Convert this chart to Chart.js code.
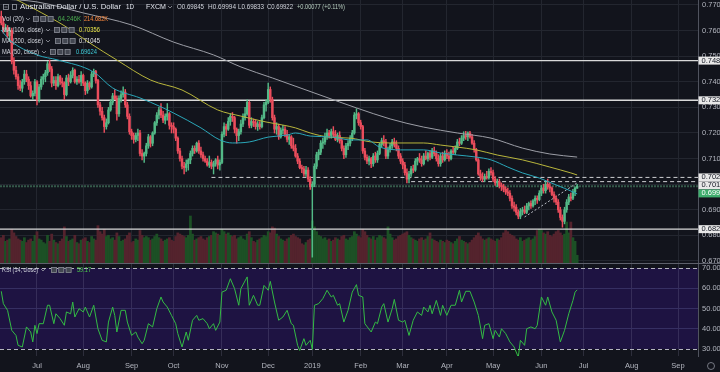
<!DOCTYPE html>
<html>
<head>
<meta charset="utf-8">
<script src="https://cdn.jsdelivr.net/npm/chart.js@4.4.0/dist/chart.umd.min.js"></script>
<style>
  html, body { margin: 0; padding: 0; background: #12141c; overflow: hidden; }
  #wrap { position: relative; width: 720px; height: 372px; }
  canvas { position: absolute; left: 0; }
  #price { top: 0; }
  #rsi { top: 264px; }
</style>
</head>
<body>
<div id="wrap">
  <canvas id="price" width="720" height="264"></canvas>
  <canvas id="rsi" width="720" height="108"></canvas>
</div>
<script>
// ---- data (prices in 1/10000, one entry per daily bar, Jun 7 2018 .. Jun 2019) ----
const monthTicks = [17, 39, 62, 82, 105, 127, 148, 171, 191, 212, 234, 257, 277, 300, 322];
const monthLabels = ['Jul', 'Aug', 'Sep', 'Oct', 'Nov', 'Dec', '2019', 'Feb', 'Mar', 'Apr', 'May', 'Jun', 'Jul', 'Aug', 'Sep'];

const opens = [
  7655,7630,7605,7610,7580,7600,7480,7445,7420,7385, 7375,7400,7430,7410,7385,7345,7355,7400,7330,7380,
  7410,7420,7435,7470,7450,7395,7405,7385,7420,7400, 7395,7350,7415,7400,7425,7445,7400,7410,7400,7425,
  7395,7365,7395,7380,7430,7440,7405,7310,7285,7260, 7225,7240,7290,7320,7345,7335,7275,7335,7350,7360,
  7310,7265,7205,7190,7175,7190,7200,7120,7110,7120, 7150,7185,7160,7200,7240,7270,7290,7270,7250,7265,
  7275,7230,7225,7215,7180,7130,7100,7070,7065,7080, 7095,7120,7140,7130,7160,7130,7115,7100,7090,7075,
  7085,7070,7080,7095,7075,7085,7195,7225,7215,7245, 7265,7260,7215,7190,7205,7235,7260,7275,7320,7230,
  7245,7240,7225,7235,7225,7260,7310,7320,7370,7330, 7260,7215,7225,7185,7210,7215,7195,7175,7185,7150,
  7140,7110,7090,7065,7060,7040,7055,7020,6990,7000, 7070,7115,7125,7160,7165,7185,7200,7190,7205,7195,
  7175,7190,7170,7140,7115,7150,7160,7180,7200,7270, 7275,7240,7225,7130,7105,7090,7100,7080,7110,7095,
  7120,7155,7170,7165,7110,7135,7150,7165,7155,7140, 7110,7090,7075,7045,7020,7040,7060,7055,7090,7100,
  7095,7080,7110,7100,7120,7105,7130,7120,7100,7080, 7110,7095,7120,7110,7100,7130,7125,7140,7165,7160,
  7180,7190,7185,7200,7185,7160,7135,7095,7040,7030, 7020,7030,7025,7050,7045,7020,7005,7010,6995,6990,
  6980,6970,6965,6945,6915,6910,6890,6875,6895,6900, 6890,6915,6925,6915,6935,6945,6940,6965,6985,6975,
  7000,6990,6985,6960,6945,6930,6900,6870,6855,6900, 6930,6950,6945,6970,6984.5
];
const highs = [
  7676,7650,7625,7620,7612,7610,7495,7460,7430,7405, 7410,7445,7445,7420,7400,7365,7410,7405,7390,7420,
  7430,7445,7480,7485,7460,7420,7420,7430,7425,7415, 7400,7425,7430,7440,7455,7450,7420,7425,7440,7430,
  7400,7405,7400,7440,7450,7445,7410,7320,7300,7270, 7255,7300,7330,7355,7370,7345,7345,7365,7380,7370,
  7320,7275,7215,7200,7200,7215,7210,7135,7125,7160, 7195,7190,7205,7245,7280,7300,7315,7285,7275,7315,
  7280,7240,7240,7220,7185,7140,7110,7085,7095,7100, 7130,7150,7150,7165,7170,7145,7125,7110,7100,7110,
  7095,7090,7100,7110,7095,7205,7240,7235,7260,7275, 7280,7265,7220,7215,7250,7275,7300,7330,7325,7260,
  7255,7250,7245,7245,7270,7320,7330,7395,7380,7340, 7270,7240,7235,7220,7230,7225,7210,7195,7190,7180,
  7155,7120,7100,7075,7070,7070,7065,7030,7010,7080, 7125,7135,7170,7180,7200,7215,7210,7215,7225,7210,
  7200,7205,7180,7150,7160,7170,7190,7210,7280,7295, 7280,7250,7230,7140,7115,7110,7105,7120,7125,7130,
  7160,7180,7190,7175,7145,7160,7175,7180,7170,7150, 7120,7100,7085,7060,7050,7070,7075,7100,7105,7120,
  7110,7120,7130,7125,7130,7140,7145,7130,7115,7120, 7125,7130,7135,7125,7135,7145,7150,7175,7180,7190,
  7205,7207,7205,7207,7195,7170,7140,7100,7055,7045, 7040,7050,7060,7065,7055,7030,7020,7020,7005,7000,
  6990,6985,6975,6955,6930,6920,6900,6905,6910,6915, 6925,6930,6935,6940,6955,6955,6975,6995,7000,7010,
  7020,7005,6990,6970,6955,6940,6910,6880,6910,6940, 6960,6965,6980,6990,6999.4
];
const lows = [
  7622,7590,7595,7570,7560,7470,7430,7410,7370,7365, 7360,7390,7400,7370,7340,7330,7345,7310,7320,7370,
  7390,7400,7425,7440,7380,7385,7370,7380,7390,7380, 7330,7345,7385,7395,7415,7395,7390,7395,7385,7385,
  7350,7355,7370,7375,7420,7395,7300,7270,7250,7202, 7215,7235,7285,7310,7330,7250,7265,7320,7340,7300,
  7255,7195,7175,7160,7165,7170,7110,7095,7085,7110, 7140,7145,7150,7195,7230,7255,7260,7240,7235,7250,
  7215,7200,7200,7170,7120,7090,7060,7040,7050,7055, 7080,7110,7120,7125,7120,7105,7090,7085,7070,7065,
  7060,7040,7070,7060,7055,7080,7185,7190,7210,7230, 7245,7200,7160,7170,7195,7225,7250,7270,7220,7220,
  7225,7215,7210,7215,7220,7255,7285,7315,7320,7250, 7200,7195,7175,7180,7195,7185,7165,7155,7140,7130,
  7105,7080,7060,7045,7030,7030,7010,6980,6715,6990, 7060,7095,7115,7140,7155,7175,7180,7180,7185,7170,
  7165,7160,7130,7100,7105,7135,7150,7170,7195,7255, 7230,7215,7120,7095,7080,7075,7065,7070,7085,7085,
  7115,7145,7150,7100,7100,7125,7140,7145,7130,7100, 7080,7060,7035,7005,7005,7030,7045,7050,7075,7085,
  7070,7075,7095,7090,7095,7100,7110,7090,7070,7070, 7085,7090,7100,7090,7095,7115,7115,7135,7150,7155,
  7170,7175,7170,7180,7155,7125,7090,7035,7015,7010, 7010,7020,7020,7035,7010,6995,6990,6985,6975,6970,
  6960,6955,6935,6905,6895,6880,6865,6865,6880,6885, 6885,6900,6905,6910,6920,6925,6935,6955,6965,6965,
  6980,6970,6955,6930,6920,6890,6860,6832,6845,6890, 6920,6935,6940,6955,6983.3
];
const closes = [
  7630,7605,7610,7580,7600,7480,7445,7420,7385,7375, 7400,7430,7410,7385,7345,7355,7400,7330,7380,7410,
  7420,7435,7470,7450,7395,7405,7385,7420,7400,7395, 7350,7415,7400,7425,7445,7400,7410,7400,7425,7395,
  7365,7395,7380,7430,7440,7405,7310,7285,7260,7225, 7240,7290,7320,7345,7335,7275,7335,7350,7360,7310,
  7265,7205,7190,7175,7190,7200,7120,7110,7120,7150, 7185,7160,7200,7240,7270,7290,7270,7250,7265,7275,
  7230,7225,7215,7180,7130,7100,7070,7065,7080,7095, 7120,7140,7130,7160,7130,7115,7100,7090,7075,7085,
  7070,7080,7095,7075,7085,7195,7225,7215,7245,7265, 7260,7215,7190,7205,7235,7260,7275,7320,7230,7245,
  7240,7225,7235,7225,7260,7310,7320,7370,7330,7260, 7215,7225,7185,7210,7215,7195,7175,7185,7150,7140,
  7110,7090,7065,7060,7040,7055,7020,6990,7000,7070, 7115,7125,7160,7165,7185,7200,7190,7205,7195,7175,
  7190,7170,7140,7115,7150,7160,7180,7200,7270,7275, 7240,7225,7130,7105,7090,7100,7080,7110,7095,7120,
  7155,7170,7165,7110,7135,7150,7165,7155,7140,7110, 7090,7075,7045,7020,7040,7060,7055,7090,7100,7095,
  7080,7110,7100,7120,7105,7130,7120,7100,7080,7110, 7095,7120,7110,7100,7130,7125,7140,7165,7160,7180,
  7190,7185,7200,7185,7160,7135,7095,7040,7030,7020, 7030,7025,7050,7045,7020,7005,7010,6995,6990,6980,
  6970,6965,6945,6915,6910,6890,6875,6895,6900,6890, 6915,6925,6915,6935,6945,6940,6965,6985,6975,7000,
  6990,6985,6960,6945,6930,6900,6870,6855,6900,6930, 6950,6945,6970,6985,6992.2
];
// volume in thousands
const volumes = [
  210,230,180,190,200,280,250,220,200,190, 180,210,170,190,200,180,230,260,200,190,
  170,160,230,180,240,190,170,160,180,200, 300,220,180,190,200,230,170,160,190,200,
  210,180,170,220,200,190,310,260,240,280, 220,230,200,210,190,250,220,180,190,200,
  230,250,170,180,200,190,270,230,210,220, 210,190,200,220,240,210,200,180,190,200,
  210,190,180,220,250,240,230,220,210,230, 390,240,190,200,210,220,200,190,210,220,
  230,260,250,240,230,280,260,240,250,230, 220,230,200,210,220,200,190,240,260,210,
  180,170,190,200,210,230,220,260,250,300, 290,240,220,200,190,180,200,210,230,240,
  220,210,200,160,150,170,190,200,350,300, 260,230,220,200,210,190,200,180,190,210,
  200,190,220,230,200,190,210,220,260,240, 220,210,280,260,230,210,200,220,190,210,
  230,220,210,200,300,240,210,190,200,220, 230,240,250,260,230,210,200,190,180,200,
  210,190,200,220,250,200,190,180,170,190, 180,170,190,180,170,160,180,200,220,190,
  180,170,160,170,190,210,230,250,220,200, 190,200,210,200,190,180,200,190,210,250,
  270,260,240,230,220,200,190,210,180,190, 200,210,190,200,220,270,280,270,250,240,
  260,230,220,240,260,270,250,230,240,340, 250,340,210,180,64
];

// moving averages: bar index -> value (1/10000)
const ma50At  = [0, 4, 17, 27, 44, 53, 66, 76, 82, 95, 104, 110, 118, 127, 136, 140, 147, 158, 166, 174, 180, 190, 201, 209, 217, 226, 233, 241, 248, 256, 264, 272, 274];
const ma50Val = [7602, 7563, 7505, 7485, 7438, 7376, 7337, 7302, 7278, 7220, 7173, 7161, 7165, 7184, 7192, 7200, 7188, 7184, 7173, 7173, 7145, 7134, 7134, 7122, 7114, 7106, 7095, 7067, 7044, 7024, 6997, 6970, 6962];
const ma100At  = [0, 15, 31, 42, 55, 71, 86, 103, 114, 126, 134, 140, 147, 156, 166, 176, 185, 201, 209, 217, 226, 236, 248, 261, 271, 274];
const ma100Val = [7751, 7688, 7614, 7552, 7485, 7407, 7368, 7290, 7266, 7243, 7231, 7220, 7200, 7184, 7180, 7165, 7161, 7161, 7153, 7145, 7134, 7114, 7095, 7067, 7044, 7036];
const ma200At  = [0, 17, 39, 62, 82, 101, 114, 129, 145, 161, 169, 185, 201, 217, 233, 248, 261, 274];
const ma200Val = [7724, 7712, 7669, 7622, 7555, 7505, 7458, 7415, 7368, 7321, 7298, 7255, 7223, 7200, 7180, 7141, 7118, 7106];

// RSI (14)
const rsiAt = [0,1,3,5,7,8,10,12,14,15,16,17,18,20,22,23,25,26,28,30,31,33,34,35,37,39,40,42,44,46,48,50,51,53,54,55,57,59,60,62,64,65,67,68,70,72,74,76,77,79,81,83,84,86,88,89,91,93,94,96,98,99,101,102,104,105,107,109,111,113,114,117,118,120,122,123,125,127,128,130,132,134,136,138,139,141,142,144,145,147,148,149,151,153,155,157,158,160,161,163,165,167,169,170,172,173,176,178,179,181,182,184,186,187,189,191,192,194,196,198,200,201,203,204,205,207,209,210,212,214,216,218,219,221,223,225,227,229,230,232,234,235,237,238,240,242,244,246,247,249,250,252,254,255,257,259,260,262,264,266,268,270,272,273,274];
const rsiVal = [58.5,52.4,49.1,39.2,36.7,31.8,31.0,40.9,38.4,33.5,41.7,37.6,42.5,42.5,51.6,51.6,42.5,47.4,45.0,41.7,48.3,47.4,53.2,45.8,49.9,48.3,50.7,45.8,51.6,40.0,34.3,33.5,43.3,50.7,46.6,38.4,49.1,49.1,43.3,36.7,38.4,35.9,32.6,34.3,42.5,40.9,49.9,55.7,53.2,50.7,46.6,42.5,37.6,31.0,38.4,34.3,44.2,46.6,44.2,45.0,42.5,40.0,42.5,39.2,43.3,58.1,59.0,64.7,59.8,51.6,59.8,65.6,51.6,56.5,51.6,51.6,61.4,59.0,63.4,53.2,44.2,45.8,49.1,42.5,41.7,31.8,29.3,35.1,31.8,34.3,29.8,51.6,52.4,54.9,59.0,55.7,56.5,51.6,52.4,43.3,49.1,58.1,61.8,56.5,55.7,42.5,38.4,43.3,42.5,50.7,52.4,43.3,49.9,54.5,44.2,43.3,44.2,36.7,44.2,48.3,46.6,50.7,48.3,51.6,47.4,54.0,46.6,51.6,46.6,51.6,51.6,59.0,53.2,58.5,58.5,53.2,46.6,35.1,41.7,42.5,35.1,39.2,35.9,40.0,37.6,33.5,31.0,26.0,34.3,31.8,40.0,40.9,40.0,41.7,55.7,51.6,55.7,48.3,44.2,33.5,39.2,47.4,54.0,58.1,59.2];

// drawn levels
const solidLevels = [0.74828, 0.73277, 0.68244];
const rayLevels = [0.70265, 0.70100];
const rayStart = [100, 195];
const lastPrice = 0.69922;
const trendFrom = [249, 0.6872];
const trendTo = [274, 0.7005];

const priceTicks = [0.77, 0.76, 0.75, 0.74, 0.73, 0.72, 0.71, 0.70, 0.69, 0.68, 0.67];
const hiddenTicks = [0.70];
const rsiTicks = [70, 60, 50, 40, 30];

// ---- layout / style ----
const XMIN = -0.604, XMAX = 331.5;
const PMIN = 0.668828, PMAX = 0.771953;
const VMIN = -8.3, VMAX = 2183;
const RMIN = 26.54, RMAX = 71.98;
const BG = '#12141c';
const GRID = '#23262f';
const UP = '#53b987', DOWN = '#eb4d5c';
const VOL_UP = '#1c5025', VOL_DOWN = '#54232d';
const TEXT = '#d1d4dc', AXIS_TEXT = '#b2b5be';
const FONT = "'Liberation Sans', Arial, sans-serif";

Chart.defaults.font.family = FONT;
Chart.defaults.animation = false;

const P = v => v / 10000;
const isUp = i => closes[i] >= opens[i];
const idx = closes.map((_, i) => i);

function xAxis(showLabels, gridColor) {
  return {
    type: 'linear', min: XMIN, max: XMAX, offset: false,
    afterBuildTicks: s => { s.ticks = monthTicks.map(v => ({ value: v })); },
    afterFit: s => { s.height = showLabels ? 16 : 0; s.paddingLeft = 0; s.paddingRight = 0; },
    grid: { color: gridColor, drawTicks: false, offset: false },
    border: { display: false },
    ticks: {
      display: showLabels, autoSkip: false, maxRotation: 0, padding: 5,
      color: AXIS_TEXT, font: { size: 7.5 },
      callback: (v, i) => monthLabels[i]
    }
  };
}

function hline(y, from, color, width, dash, order) {
  return {
    type: 'line', data: [{ x: from, y: y }, { x: XMAX, y: y }],
    borderColor: color, borderWidth: width, borderDash: dash,
    pointRadius: 0, order: order
  };
}

function maLine(at, val, color) {
  return {
    type: 'line', data: at.map((x, k) => ({ x: x, y: P(val[k]) })),
    borderColor: color, borderWidth: 1, pointRadius: 0,
    cubicInterpolationMode: 'monotone', order: 1
  };
}

function icons(ctx, x, y) {
  for (let k = 0; k < 3; k++) {
    const ix = x + k * 7.3;
    ctx.fillStyle = '#434751';
    ctx.fillRect(ix, y - 3, 6, 6);
    ctx.strokeStyle = '#8d909a';
    ctx.lineWidth = 0.7;
    ctx.strokeRect(ix + 0.5, y - 2.5, 5, 5);
  }
}

function chevron(ctx, x, y) {
  ctx.strokeStyle = '#9a9da6';
  ctx.lineWidth = 0.8;
  ctx.beginPath();
  ctx.moveTo(x, y - 1); ctx.lineTo(x + 2, y + 1); ctx.lineTo(x + 4, y - 1);
  ctx.stroke();
}

function text(ctx, s, x, y, color, w) {
  ctx.fillStyle = color;
  if (w) ctx.fillText(s, x, y, w); else ctx.fillText(s, x, y);
}

const pricePlugin = {
  id: 'pricePane',
  beforeDraw(chart) {
    const ctx = chart.ctx;
    ctx.save();
    ctx.fillStyle = BG;
    ctx.fillRect(0, 0, chart.width, chart.height);
    ctx.restore();
  },
  afterDraw(chart) {
    const ctx = chart.ctx;
    const ys = chart.scales.y;
    ctx.save();
    ctx.textBaseline = 'middle';
    ctx.font = '7.5px ' + FONT;

    // header
    ctx.strokeStyle = '#9a9da6'; ctx.lineWidth = 0.8;
    ctx.strokeRect(3.5, 4.5, 5, 5);
    ctx.beginPath(); ctx.moveTo(4.5, 7); ctx.lineTo(7.5, 7); ctx.stroke();
    ctx.strokeRect(12.5, 4.5, 4, 5);
    ctx.font = '8px ' + FONT;
    text(ctx, 'Australian Dollar / U.S. Dollar', 20, 7, '#e0e3eb', 101);
    text(ctx, '1D', 126, 7, '#e0e3eb', 8);
    text(ctx, 'FXCM', 146, 7, '#e0e3eb', 20);
    chevron(ctx, 168, 7);
    ctx.font = '7.5px ' + FONT;
    text(ctx, 'O0.69845', 177, 7, TEXT, 27);
    text(ctx, 'H0.69994', 208, 7, TEXT, 28);
    text(ctx, 'L0.69833', 238, 7, TEXT, 26);
    text(ctx, 'C0.69922', 267, 7, TEXT, 26);
    text(ctx, '+0.00077 (+0.11%)', 297, 7, '#b8cfc0', 48);

    // indicator rows
    text(ctx, 'Vol (20)', 2, 19, TEXT, 22); chevron(ctx, 26, 19); icons(ctx, 33, 19);
    text(ctx, '64.246K', 58, 19, '#4caf50', 23);
    text(ctx, '214.682K', 84, 19, '#ff8a3d', 24);
    text(ctx, 'MA (100, close)', 2, 30, TEXT, 41); chevron(ctx, 46, 30); icons(ctx, 54, 30);
    text(ctx, '0.70356', 79, 30, '#e8e54a', 21);
    text(ctx, 'MA (200, close)', 2, 41, TEXT, 41); chevron(ctx, 46, 41); icons(ctx, 55, 41);
    text(ctx, '0.71045', 79, 41, '#e6e6e6', 21);
    text(ctx, 'MA (50, close)', 2, 52, TEXT, 37); chevron(ctx, 42, 52); icons(ctx, 50, 52);
    text(ctx, '0.69624', 76, 52, '#3ec9d6', 21);

    // price labels on the axis
    const boxes = [
      { v: solidLevels[0], bg: '#e8e8e8', fg: '#131722' },
      { v: solidLevels[1], bg: '#e8e8e8', fg: '#131722' },
      { v: rayLevels[0], bg: '#e8e8e8', fg: '#131722' },
      { v: rayLevels[1], bg: '#e8e8e8', fg: '#131722' },
      { v: lastPrice, bg: '#3fae6e', fg: '#ffffff' },
      { v: solidLevels[2], bg: '#e8e8e8', fg: '#131722' }
    ].map(b => Object.assign(b, { y: ys.getPixelForValue(b.v) }))
     .sort((a, b) => a.y - b.y);
    for (let k = 1; k < boxes.length; k++) {
      if (boxes[k].y - boxes[k - 1].y < 8) boxes[k].y = boxes[k - 1].y + 8;
    }
    boxes.forEach(b => {
      ctx.fillStyle = b.bg;
      ctx.fillRect(698.5, b.y - 4, 22, 8);
      text(ctx, b.v.toFixed(5), 701.5, b.y, b.fg);
    });

    // pane separator
    ctx.strokeStyle = '#5d606b'; ctx.lineWidth = 1;
    ctx.beginPath(); ctx.moveTo(0, 263.5); ctx.lineTo(720, 263.5); ctx.stroke();
    ctx.restore();
  }
};

new Chart(document.getElementById('price'), {
  type: 'bar',
  data: {
    datasets: [
      maLine(ma50At, ma50Val, '#2aa7b9'),
      maLine(ma100At, ma100Val, '#b9b63c'),
      maLine(ma200At, ma200Val, '#9c9ea6'),
      {
        type: 'bar', data: idx.map(i => ({ x: i, y: [P(opens[i]), P(closes[i])] })),
        backgroundColor: c => isUp(c.dataIndex) ? UP : DOWN,
        barThickness: 1.8, grouped: false, minBarLength: 1, borderWidth: 0, order: 2
      },
      {
        type: 'bar', data: idx.map(i => ({ x: i, y: [P(lows[i]), P(highs[i])] })),
        backgroundColor: c => isUp(c.dataIndex) ? UP : DOWN,
        barThickness: 0.8, grouped: false, borderWidth: 0, order: 3
      },
      ...solidLevels.map(v => hline(v, XMIN, '#d9d9d9', 1.4, [], 4)),
      ...rayLevels.map((v, k) => hline(v, rayStart[k], '#cfd0d4', 1, [4, 3], 4)),
      hline(lastPrice, XMIN, '#35594a', 2, [2, 1], 5),
      {
        type: 'line', data: [{ x: trendFrom[0], y: trendFrom[1] }, { x: trendTo[0], y: trendTo[1] }],
        borderColor: '#b9bcc4', borderWidth: 1, borderDash: [2, 2], pointRadius: 0, order: 4
      },
      {
        type: 'bar', yAxisID: 'yv', data: idx.map(i => ({ x: i, y: volumes[i] })),
        backgroundColor: c => isUp(c.dataIndex) ? VOL_UP : VOL_DOWN,
        barThickness: 2.1, grouped: false, borderWidth: 0, order: 10
      }
    ]
  },
  options: {
    responsive: false, animation: false, events: [],
    layout: { padding: 0 },
    plugins: { legend: { display: false }, tooltip: { enabled: false } },
    scales: {
      x: xAxis(false, GRID),
      y: {
        position: 'right', min: PMIN, max: PMAX,
        afterBuildTicks: s => { s.ticks = priceTicks.map(v => ({ value: v })); },
        afterFit: s => { s.width = 22; s.paddingTop = 0; s.paddingBottom = 0; },
        grid: { color: GRID, drawTicks: false },
        border: { color: '#50535e' },
        ticks: {
          color: AXIS_TEXT, padding: 4, font: { size: 7.5 },
          callback: v => hiddenTicks.includes(v) ? '' : v.toFixed(5)
        }
      },
      yv: { type: 'linear', display: false, position: 'left', min: VMIN, max: VMAX }
    }
  },
  plugins: [pricePlugin]
});

const rsiPlugin = {
  id: 'rsiPane',
  beforeDraw(chart) {
    const ctx = chart.ctx;
    const a = chart.chartArea, ys = chart.scales.y;
    ctx.save();
    ctx.fillStyle = BG;
    ctx.fillRect(0, 0, chart.width, chart.height);
    const y70 = ys.getPixelForValue(70), y30 = ys.getPixelForValue(30);
    ctx.fillStyle = '#1e1342';
    ctx.fillRect(a.left, y70, a.right - a.left, y30 - y70);
    ctx.restore();
  },
  beforeDatasetsDraw(chart) {
    const ctx = chart.ctx;
    const a = chart.chartArea, ys = chart.scales.y;
    ctx.save();
    ctx.strokeStyle = '#b4b4c0'; ctx.lineWidth = 1; ctx.setLineDash([4, 3]);
    [70, 30].forEach(v => {
      const y = Math.round(ys.getPixelForValue(v)) + 0.5;
      ctx.beginPath(); ctx.moveTo(a.left, y); ctx.lineTo(a.right, y); ctx.stroke();
    });
    ctx.restore();
  },
  afterDraw(chart) {
    const ctx = chart.ctx;
    ctx.save();
    ctx.textBaseline = 'middle';
    ctx.font = '7.5px ' + FONT;
    text(ctx, 'RSI (14, close)', 2, 6, TEXT, 36);
    chevron(ctx, 41, 6);
    icons(ctx, 51, 6);
    text(ctx, '59.17', 77, 6, '#4cd04c', 14);
    ctx.strokeStyle = '#8d909a'; ctx.lineWidth = 0.8;
    ctx.beginPath(); ctx.arc(711, 102, 3.5, 0, Math.PI * 2); ctx.stroke();
    ctx.restore();
  }
};

new Chart(document.getElementById('rsi'), {
  type: 'line',
  data: {
    datasets: [{
      data: rsiAt.map((x, k) => ({ x: x, y: rsiVal[k] })),
      borderColor: '#33bb44', borderWidth: 1, pointRadius: 0, tension: 0
    }]
  },
  options: {
    responsive: false, animation: false, events: [],
    layout: { padding: 0 },
    plugins: { legend: { display: false }, tooltip: { enabled: false } },
    scales: {
      x: xAxis(true, 'rgba(140,140,175,0.22)'),
      y: {
        position: 'right', min: RMIN, max: RMAX,
        afterBuildTicks: s => { s.ticks = rsiTicks.map(v => ({ value: v })); },
        afterFit: s => { s.width = 22; s.paddingTop = 0; s.paddingBottom = 0; },
        grid: {
          drawTicks: false,
          color: c => (c.tick && (c.tick.value === 70 || c.tick.value === 30)) ? 'rgba(0,0,0,0)' : '#362f62'
        },
        border: { color: '#50535e' },
        ticks: { color: AXIS_TEXT, padding: 4, font: { size: 7.5 }, callback: v => v.toFixed(2) }
      }
    }
  },
  plugins: [rsiPlugin]
});
</script>
</body>
</html>
